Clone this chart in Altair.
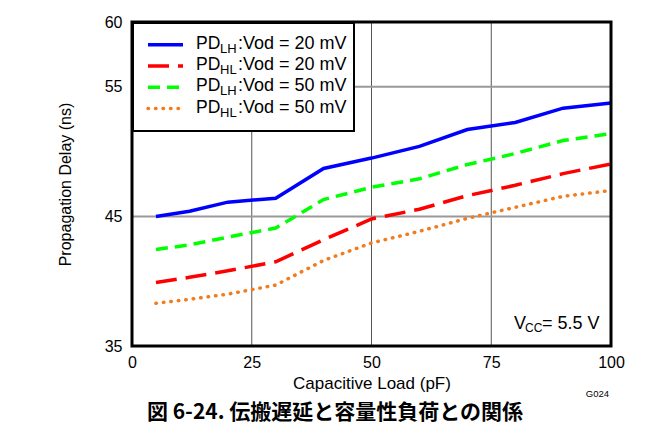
import altair as alt
import pandas as pd

# ---- data ----
x_load = [5, 12, 20, 30, 40, 50, 60, 70, 80, 90, 100]
pd_lh_20 = [45.0, 45.4, 46.1, 46.4, 48.7, 49.5, 50.4, 51.7, 52.25, 53.35, 53.75]
pd_hl_20 = [39.9, 40.3, 40.8, 41.5, 43.2, 44.8, 45.55, 46.6, 47.4, 48.3, 49.05]
pd_lh_50 = [42.45, 42.8, 43.4, 44.1, 46.3, 47.25, 47.9, 49.0, 49.85, 50.85, 51.4]
pd_hl_50 = [38.3, 38.6, 39.0, 39.7, 41.6, 42.95, 43.85, 44.85, 45.7, 46.55, 47.0]

series_values = [pd_lh_20, pd_hl_20, pd_lh_50, pd_hl_50]
series_sub = ["LH", "HL", "LH", "HL"]
series_rest = [":Vod = 20 mV", ":Vod = 20 mV", ":Vod = 50 mV", ":Vod = 50 mV"]

x_ticks = [0, 25, 50, 75, 100]
y_ticks = [35, 45, 55, 60]
grid_x = [25, 50, 75]
grid_y = [45, 55]

x_title = "Capacitive Load (pF)"
y_title = "Propagation Delay (ns)"
fig_title = "図 6-24. 伝搬遅延と容量性負荷との関係"
fig_code = "G024"

# ---- styles ----
colors = ["#0000FF", "#FF0000", "#00FF00", "#F07C1E"]
dashes = [None, [21, 9], [12, 7], [0.5, 7]]
caps = ["butt", "butt", "butt", "round"]
LW = 3.5
FONT = "Liberation Sans, Arial, sans-serif"

W, H = 479, 324

xs = alt.Scale(domain=[0, 100], nice=False)
ys = alt.Scale(domain=[35, 60], nice=False, zero=False)

x_axis = alt.Axis(values=x_ticks, grid=False, domain=False, ticks=False, tickSize=0,
                  labelPadding=8, labelFontSize=16, labelFont=FONT, labelColor="black",
                  labelFlush=False, title=x_title, titleFont=FONT, titleFontSize=17,
                  titleFontWeight="normal", titleColor="black", titleY=37,
                  titleBaseline="middle")
y_axis = alt.Axis(values=y_ticks, grid=False, domain=False, ticks=False, tickSize=0,
                  labelPadding=10, labelFontSize=16, labelFont=FONT, labelColor="black",
                  labelFlush=False, title=y_title, titleFont=FONT, titleFontSize=16,
                  titleFontWeight="normal", titleColor="black", titleX=-67, titleY=H / 2,
                  titleAngle=-90, titleAlign="center", titleBaseline="middle")

x_enc = alt.X("x:Q", scale=xs, axis=x_axis)
y_enc = alt.Y("y:Q", scale=ys, axis=y_axis)

one = pd.DataFrame({"a": [0]})

layers = []
layers.append(alt.Chart(pd.DataFrame({"x": grid_x})).mark_rule(color="#555555", strokeWidth=1).encode(x=x_enc))
layers.append(alt.Chart(pd.DataFrame({"y": grid_y})).mark_rule(color="#999999", strokeWidth=2).encode(y=y_enc))

for vals, c, d, cap in zip(series_values, colors, dashes, caps):
    df = pd.DataFrame({"x": x_load, "y": vals})
    kw = dict(color=c, strokeWidth=LW, strokeCap=cap)
    if d is not None:
        kw["strokeDash"] = d
    layers.append(alt.Chart(df).mark_line(**kw).encode(x=x_enc, y=y_enc))

# legend box
layers.append(alt.Chart(one).mark_rect(fill="white", stroke="black", strokeWidth=2).encode(
    x=alt.value(1), x2=alt.value(222), y=alt.value(1), y2=alt.value(109)))

base0 = 26.7
step = 21.3
for i in range(4):
    b = base0 + i * step
    kw = dict(color=colors[i], strokeWidth=LW, strokeCap=caps[i])
    if dashes[i] is not None:
        kw["strokeDash"] = dashes[i]
    layers.append(alt.Chart(one).mark_rule(**kw).encode(
        x=alt.value(16), x2=alt.value(51), y=alt.value(b - 4)))
    layers.append(alt.Chart(one).mark_text(text="PD", align="left", baseline="alphabetic",
                                           fontSize=17.5, font=FONT, color="black").encode(
        x=alt.value(64), y=alt.value(b)))
    layers.append(alt.Chart(one).mark_text(text=series_sub[i], align="left", baseline="alphabetic",
                                           fontSize=13, font=FONT, color="black").encode(
        x=alt.value(88), y=alt.value(b + 4)))
    layers.append(alt.Chart(one).mark_text(text=series_rest[i], align="left", baseline="alphabetic",
                                           fontSize=18, font=FONT, color="black").encode(
        x=alt.value(106), y=alt.value(b)))

# Vcc annotation
layers.append(alt.Chart(one).mark_text(text="V", align="left", baseline="alphabetic",
                                       fontSize=18, font=FONT, color="black").encode(
    x=alt.value(382), y=alt.value(307)))
layers.append(alt.Chart(one).mark_text(text="CC", align="left", baseline="alphabetic",
                                       fontSize=12, font=FONT, color="black").encode(
    x=alt.value(393), y=alt.value(310)))
layers.append(alt.Chart(one).mark_text(text="= 5.5 V", align="left", baseline="alphabetic",
                                       fontSize=18, font=FONT, color="black").encode(
    x=alt.value(410), y=alt.value(307)))

# G024 code and figure caption
layers.append(alt.Chart(one).mark_text(text=fig_code, align="right", baseline="alphabetic",
                                       fontSize=9.5, font=FONT, color="black").encode(
    x=alt.value(477), y=alt.value(375)))
layers.append(alt.Chart(one).mark_text(text=fig_title, align="center", baseline="middle",
                                       fontSize=21, fontWeight="bold", font="Noto Sans CJK JP",
                                       color="black").encode(
    x=alt.value(203), y=alt.value(391)))

# frame
layers.append(alt.Chart(one).mark_rect(fill=None, stroke="black", strokeWidth=3).encode(
    x=alt.value(0), x2=alt.value(W), y=alt.value(0), y2=alt.value(H)))

chart = alt.layer(*layers).properties(
    width=W, height=H,
    autosize=alt.AutoSizeParams(type="none"),
    padding={"left": 124, "top": 14, "right": 40, "bottom": 88},
).configure_view(stroke=None)

chart.save("out.html", embed_options={"renderer": "svg", "actions": False})
